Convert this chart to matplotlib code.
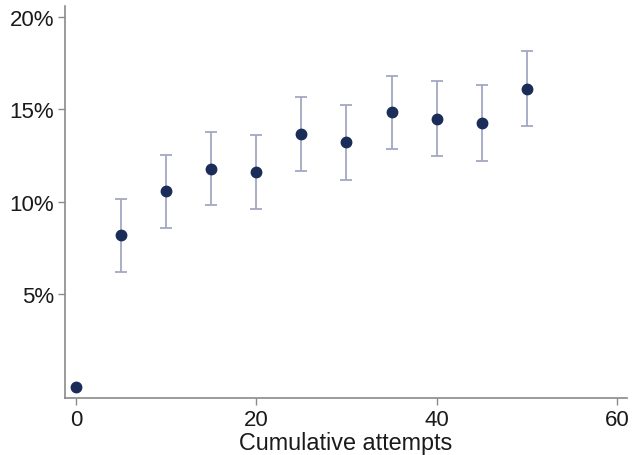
import matplotlib
matplotlib.use("Agg")
import matplotlib.pyplot as plt
from matplotlib.ticker import FuncFormatter

attempts = [0, 5, 10, 15, 20, 25, 30, 35, 40, 45, 50]
rate = [0.0, 8.18, 10.59, 11.8, 11.62, 13.67, 13.22, 14.84, 14.5, 14.27, 16.13]
lower = [0.0, 6.2, 8.6, 9.83, 9.62, 11.67, 11.19, 12.87, 12.46, 12.22, 14.1]
upper = [0.0, 10.18, 12.56, 13.78, 13.62, 15.67, 15.25, 16.82, 16.55, 16.3, 18.17]

plt.rcParams['font.family'] = ['Liberation Sans', 'DejaVu Sans']

fig = plt.figure(figsize=(6.33, 4.56), dpi=100)
ax = fig.add_axes([0.1027, 0.125, 0.8878, 0.8596])

# error bars only where there is a range
ex = [a for a, lo, hi in zip(attempts, lower, upper) if hi > lo]
ey = [r for r, lo, hi in zip(rate, lower, upper) if hi > lo]
elo = [r - lo for r, lo, hi in zip(rate, lower, upper) if hi > lo]
ehi = [hi - r for r, lo, hi in zip(rate, lower, upper) if hi > lo]
ax.errorbar(ex, ey, yerr=[elo, ehi], fmt='none', ecolor='#a3a8c3',
            elinewidth=1.3, capsize=4, capthick=1.3, zorder=2)
ax.plot(attempts, rate, 'o', color='#1a2c58', markersize=7.5, zorder=3)

ax.set_xlim(-1.2, 61.1)
ax.set_ylim(-0.62, 20.6)
ax.set_xticks([0, 20, 40, 60])
ax.set_yticks([5, 10, 15, 20])
ax.yaxis.set_major_formatter(FuncFormatter(lambda v, p: f"{v:.0f}%"))

for side in ['top', 'right']:
    ax.spines[side].set_visible(False)
for side in ['left', 'bottom']:
    ax.spines[side].set_color('#8a8a8a')
    ax.spines[side].set_linewidth(1.2)
ax.tick_params(axis='both', direction='out', length=5, width=1, color='#8a8a8a',
               labelsize=16, labelcolor='#1a1a1a', pad=3)

ax.set_xlabel("Cumulative attempts", fontsize=16.8, color='#1a1a1a', labelpad=0.5)

fig.savefig("out.png", dpi=100)
